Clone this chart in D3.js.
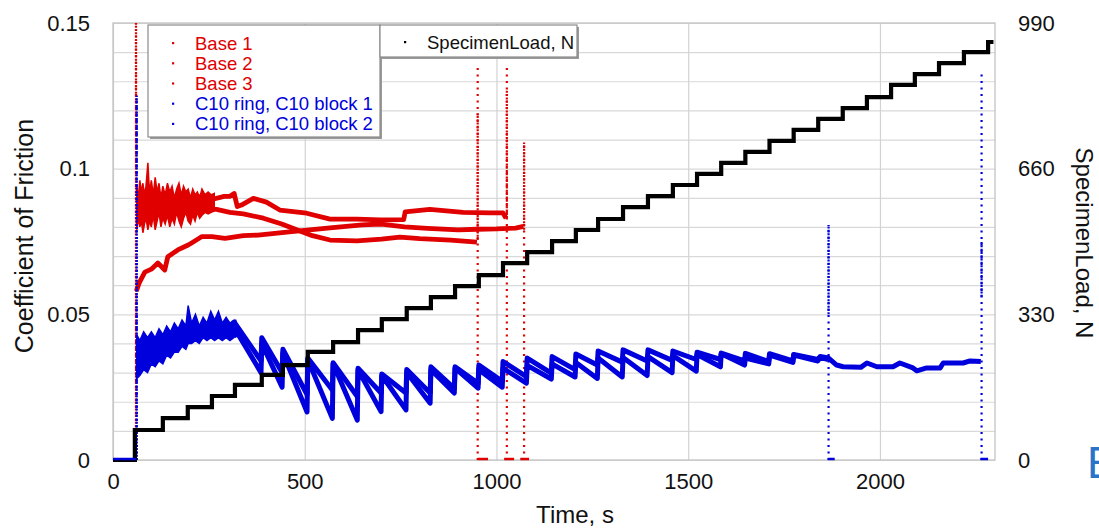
<!DOCTYPE html>
<html><head><meta charset="utf-8">
<script src="https://cdn.jsdelivr.net/npm/d3@7"></script>
<style>
body{margin:0;background:#fff;}
svg{display:block;font-family:"Liberation Sans",Arial,Helvetica,sans-serif;}
</style>
</head><body>
<svg id="chart" width="1099" height="528"></svg>
<script>
// ---------------- DATA ----------------
const xTickValues = [0, 500, 1000, 1500, 2000];
const yTickValues = [0, 0.05, 0.1, 0.15];
const yTickLabels = ["0", "0.05", "0.1", "0.15"];
const y2TickValues = [0, 330, 660, 990];
const seriesNames = ["Base 1", "Base 2", "Base 3", "C10 ring, C10 block 1", "C10 ring, C10 block 2"];
const loadName = "SpecimenLoad, N";

// Specimen load (N), staircase
const loadTime  = [0, 57, 130, 195, 258, 318, 388, 443, 508, 574, 639, 701, 766, 829, 892, 954, 1017, 1080, 1145, 1207, 1265, 1330, 1395, 1460, 1523, 1586, 1649, 1712, 1775, 1839, 1903, 1966, 2029, 2091, 2154, 2219, 2282, 2296];
const loadValue = [0, 68, 95, 120, 145, 170, 193, 215, 245, 267, 294, 319, 344, 369, 394, 419, 446, 471, 496, 521, 546, 573, 598, 623, 648, 673, 698, 723, 748, 773, 797, 822, 850, 874, 899, 924, 947, 947];

// Red noisy start (envelope of Base 1 / Base 2)
const redBandTime = [62, 66, 70, 74, 78, 82, 86, 91, 95, 100, 105, 110, 115, 120, 125, 130, 136, 142, 148, 154, 160, 166, 172, 178, 184, 190, 196, 202, 208, 214, 220, 226, 232, 240, 248, 256, 264];
const redBandHigh = [0.094, 0.090, 0.096, 0.092, 0.095, 0.091, 0.094, 0.102, 0.092, 0.096, 0.091, 0.097, 0.092, 0.095, 0.090, 0.094, 0.091, 0.095, 0.092, 0.094, 0.090, 0.093, 0.095, 0.091, 0.094, 0.092, 0.093, 0.090, 0.093, 0.091, 0.092, 0.090, 0.093, 0.091, 0.092, 0.091, 0.0915];
const redBandLow  = [0.079, 0.083, 0.080, 0.082, 0.078, 0.081, 0.083, 0.079, 0.082, 0.080, 0.084, 0.079, 0.082, 0.085, 0.080, 0.083, 0.081, 0.084, 0.080, 0.083, 0.081, 0.085, 0.082, 0.080, 0.083, 0.085, 0.082, 0.081, 0.084, 0.082, 0.085, 0.083, 0.084, 0.085, 0.0845, 0.085, 0.0855];

const base1Time  = [65, 100, 150, 200, 230, 260, 290, 305, 316, 324, 335, 366, 400, 435, 505, 566, 636, 697, 758, 762, 826, 913, 983, 1017, 1025];
const base1Value = [0.088, 0.088, 0.0885, 0.089, 0.0905, 0.0895, 0.0905, 0.0905, 0.0915, 0.087, 0.0875, 0.0898, 0.0885, 0.0858, 0.0847, 0.0827, 0.0827, 0.0824, 0.0825, 0.0852, 0.086, 0.085, 0.0848, 0.0848, 0.083];

const base2Time  = [65, 150, 220, 270, 305, 340, 392, 440, 479, 520, 566, 636, 700, 748, 800, 880, 949];
const base2Value = [0.086, 0.086, 0.0865, 0.086, 0.085, 0.0845, 0.083, 0.081, 0.079, 0.077, 0.0755, 0.0752, 0.0758, 0.0765, 0.076, 0.0755, 0.0748];

const base3Time  = [61, 68, 83, 100, 117, 135, 143, 169, 196, 205, 232, 258, 292, 340, 378, 466, 566, 650, 700, 760, 820, 900, 950, 1000, 1050, 1070];
const base3Value = [0.058, 0.0607, 0.0645, 0.0655, 0.0676, 0.0652, 0.0698, 0.0721, 0.0738, 0.0745, 0.0767, 0.0767, 0.0761, 0.077, 0.0772, 0.0784, 0.0797, 0.0807, 0.081, 0.080, 0.0795, 0.079, 0.0792, 0.0793, 0.0796, 0.0802];

const redSpikeTime = [60, 951, 1027, 1072];
const redSpikeTop = [0.15, 0.135, 0.136, 0.109];
const redSpikeDenseLow = [0.0, 0.0755, 0.083, 0.079];
const redSpikeDenseHigh = [0.15, 0.119, 0.127, 0.109];
const redZeroStart = [951, 1020, 1062];
const redZeroEnd = [978, 1046, 1085];

// Blue noisy start (envelope of both C10 runs)
const blueBandTime = [62, 70, 80, 90, 100, 110, 120, 130, 140, 150, 160, 170, 180, 190, 196, 205, 215, 225, 235, 245, 255, 265, 275, 285, 295, 305, 315];
const blueBandHigh = [0.043, 0.041, 0.044, 0.042, 0.044, 0.042, 0.045, 0.043, 0.046, 0.044, 0.047, 0.045, 0.048, 0.046, 0.053, 0.047, 0.05, 0.046, 0.049, 0.047, 0.051, 0.048, 0.051, 0.047, 0.049, 0.047, 0.048];
const blueBandLow  = [0.028, 0.029, 0.031, 0.030, 0.033, 0.032, 0.034, 0.033, 0.036, 0.035, 0.037, 0.037, 0.039, 0.038, 0.040, 0.040, 0.041, 0.040, 0.042, 0.041, 0.042, 0.041, 0.042, 0.041, 0.042, 0.041, 0.042];

// Sawtooth: value right after each load step and just before the next one
const blueStepTime = [318, 388, 443, 508, 574, 639, 701, 766, 829, 892, 954, 1017, 1080, 1145, 1207, 1265, 1330, 1395, 1460, 1523, 1586, 1649];
const block1Peak   = [0.047, 0.042, 0.038, 0.035, 0.0334, 0.0315, 0.0295, 0.0311, 0.032, 0.032, 0.0326, 0.0338, 0.035, 0.0355, 0.0364, 0.0374, 0.0378, 0.0378, 0.0374, 0.037, 0.0367];
const block1Trough = [0.034, 0.030, 0.0225, 0.024, 0.0218, 0.023, 0.023, 0.023, 0.0246, 0.0263, 0.027, 0.0286, 0.0298, 0.031, 0.0326, 0.0336, 0.034, 0.0342, 0.0345, 0.0345, 0.034];
const block2Peak   = [0.045, 0.040, 0.0367, 0.0345, 0.033, 0.031, 0.029, 0.030, 0.031, 0.0315, 0.031, 0.0315, 0.0325, 0.033, 0.0335, 0.035, 0.0352, 0.0355, 0.0358, 0.0362, 0.0365];
const block2Trough = [0.030, 0.025, 0.0165, 0.0143, 0.0137, 0.0166, 0.0172, 0.0195, 0.023, 0.0247, 0.025, 0.0264, 0.0278, 0.0285, 0.028, 0.0285, 0.029, 0.030, 0.0305, 0.032, 0.0326];

const block1TailTime  = [1649, 1710, 1712, 1773, 1775, 1838, 1844, 1866, 1887, 1904, 1950, 1966, 1992, 2034, 2052, 2086, 2096, 2122, 2157, 2165, 2217, 2235, 2263];
const block1TailValue = [0.0366, 0.0338, 0.0365, 0.034, 0.0362, 0.0345, 0.0355, 0.035, 0.0326, 0.032, 0.0318, 0.0333, 0.032, 0.032, 0.0333, 0.0316, 0.0306, 0.0316, 0.0316, 0.0333, 0.0333, 0.034, 0.0338];
const block2TailTime  = [1649, 1710, 1712, 1773, 1775, 1838, 1844, 1865];
const block2TailValue = [0.035, 0.033, 0.036, 0.0335, 0.036, 0.034, 0.0352, 0.0345];

const blueSpikeTime = [62, 1866, 2265];
const blueSpikeTop = [0.125, 0.0807, 0.133];
const blueSpikeDenseLow = [0.0, 0.050, 0.056];
const blueSpikeDenseHigh = [0.125, 0.0807, 0.075];
const blueZeroStart = [0, 1864, 2262];
const blueZeroEnd = [60, 1882, 2282];

// ---------------- CHART ----------------
const RED = "#e00000", BLUE = "#0000dc", BLACK = "#000";
const L = 113, R = 995, T = 23, B = 460;
const svg = d3.select("#chart");
const x = d3.scaleLinear().domain([0, 2300]).range([L, R]);
const y = d3.scaleLinear().domain([0, 0.15]).range([B, T]);
const y2 = d3.scaleLinear().domain([0, 990]).range([B, T]);

svg.append("defs").append("clipPath").attr("id", "clip")
  .append("rect").attr("x", L).attr("y", T - 3).attr("width", R - L).attr("height", B - T + 5);

// grid
const grid = svg.append("g");
grid.append("g").attr("transform", `translate(${L},0)`)
  .call(d3.axisLeft(y).tickValues(d3.range(0, 0.1501, 0.01)).tickSize(-(R - L)).tickFormat(""))
  .call(g => g.select(".domain").remove())
  .call(g => g.selectAll("line").attr("stroke", "#d9d9d9").attr("stroke-width", 1.2));
grid.append("g").attr("transform", `translate(0,${B})`)
  .call(d3.axisBottom(x).tickValues(xTickValues).tickSize(-(B - T)).tickFormat(""))
  .call(g => g.select(".domain").remove())
  .call(g => g.selectAll("line").attr("stroke", "#d2d2d2").attr("stroke-width", 1.2));
svg.append("rect").attr("x", L).attr("y", T).attr("width", R - L).attr("height", B - T)
  .attr("fill", "none").attr("stroke", "#c4c4c4").attr("stroke-width", 1.3);

const plot = svg.append("g").attr("clip-path", "url(#clip)");
const line = d3.line().x(d => x(d[0])).y(d => y(d[1]));
const zip = (a, b) => a.map((t, i) => [t, b[i]]);

function drawSpikes(times, tops, dLo, dHi, color) {
  times.forEach((t, i) => {
    plot.append("line").attr("x1", x(t)).attr("x2", x(t)).attr("y1", y(0)).attr("y2", y(tops[i]))
      .attr("stroke", color).attr("stroke-width", 2.2).attr("stroke-dasharray", "2 4.5");
    plot.append("line").attr("x1", x(t)).attr("x2", x(t)).attr("y1", y(dLo[i])).attr("y2", y(dHi[i]))
      .attr("stroke", color).attr("stroke-width", 2.2).attr("stroke-dasharray", "2 1.3");
  });
}
function drawZero(starts, ends, color) {
  starts.forEach((s, i) => {
    plot.append("line").attr("x1", x(s)).attr("x2", x(ends[i])).attr("y1", y(0) - 1).attr("y2", y(0) - 1)
      .attr("stroke", color).attr("stroke-width", 2.5);
  });
}

// red
const area = d3.area().x(d => x(d[0])).y0(d => y(d[2])).y1(d => y(d[1]));
plot.append("path").datum(redBandTime.map((t, i) => [t, redBandHigh[i], redBandLow[i]]))
  .attr("d", area).attr("fill", RED).attr("stroke", RED).attr("stroke-width", 1.5);
[[base1Time, base1Value], [base2Time, base2Value], [base3Time, base3Value]].forEach(([t, v]) => {
  plot.append("path").datum(zip(t, v)).attr("d", line).attr("fill", "none")
    .attr("stroke", RED).attr("stroke-width", 4.8).attr("stroke-linejoin", "round");
});
drawSpikes(redSpikeTime, redSpikeTop, redSpikeDenseLow, redSpikeDenseHigh, RED);

// blue
plot.append("path").datum(blueBandTime.map((t, i) => [t, blueBandHigh[i], blueBandLow[i]]))
  .attr("d", area).attr("fill", BLUE).attr("stroke", BLUE).attr("stroke-width", 1.5);
function teeth(peaks, troughs) {
  const pts = [];
  peaks.forEach((p, i) => {
    pts.push([blueStepTime[i], p]);
    pts.push([blueStepTime[i + 1] - 2, troughs[i]]);
  });
  return pts;
}
const block1 = [[315, blueBandHigh[blueBandHigh.length - 1]]].concat(teeth(block1Peak, block1Trough), zip(block1TailTime, block1TailValue));
const block2 = [[315, blueBandLow[blueBandLow.length - 1]]].concat(teeth(block2Peak, block2Trough), zip(block2TailTime, block2TailValue));
[block1, block2].forEach(pts => {
  plot.append("path").datum(pts).attr("d", line).attr("fill", "none")
    .attr("stroke", BLUE).attr("stroke-width", 5).attr("stroke-linejoin", "round");
});
drawSpikes(blueSpikeTime, blueSpikeTop, blueSpikeDenseLow, blueSpikeDenseHigh, BLUE);

// load
const loadLine = d3.line().x(d => x(d[0])).y(d => y2(d[1])).curve(d3.curveStepAfter);
plot.append("path").datum(zip(loadTime, loadValue)).attr("d", loadLine).attr("fill", "none")
  .attr("stroke", BLACK).attr("stroke-width", 4.2);

drawZero(redZeroStart, redZeroEnd, RED);
drawZero(blueZeroStart, blueZeroEnd, BLUE);

// axes labels
const tickFont = 22;
svg.append("g").attr("transform", `translate(${L},0)`)
  .call(d3.axisLeft(y).tickValues(yTickValues).tickSize(0).tickPadding(23).tickFormat((d, i) => yTickLabels[i]))
  .call(g => g.select(".domain").remove())
  .call(g => g.selectAll("text").attr("font-size", tickFont).attr("font-family", "Liberation Sans, Arial, sans-serif").attr("fill", "#111"));
svg.append("g").attr("transform", `translate(${R},0)`)
  .call(d3.axisRight(y2).tickValues(y2TickValues).tickSize(0).tickPadding(23).tickFormat(d3.format("d")))
  .call(g => g.select(".domain").remove())
  .call(g => g.selectAll("text").attr("font-size", tickFont).attr("font-family", "Liberation Sans, Arial, sans-serif").attr("fill", "#111"));
svg.append("g").attr("transform", `translate(0,${B})`)
  .call(d3.axisBottom(x).tickValues(xTickValues).tickSize(0).tickPadding(13).tickFormat(d3.format("d")))
  .call(g => g.select(".domain").remove())
  .call(g => g.selectAll("text").attr("font-size", tickFont).attr("font-family", "Liberation Sans, Arial, sans-serif").attr("fill", "#111"));

svg.append("text").attr("transform", "translate(33,236) rotate(-90)").attr("text-anchor", "middle")
  .attr("font-size", 25).attr("fill", "#111").text("Coefficient of Friction");
svg.append("text").attr("transform", "translate(1076,243) rotate(90)").attr("text-anchor", "middle")
  .attr("font-size", 24).attr("fill", "#111").text(loadName);
svg.append("text").attr("x", 575).attr("y", 523).attr("text-anchor", "middle")
  .attr("font-size", 24).attr("fill", "#111").text("Time, s");
svg.append("text").attr("x", 1087).attr("y", 478).attr("font-size", 44).attr("fill", "#2a74c8").text("E");

// legends
function legendBox(x0, y0, w, h) {
  svg.append("rect").attr("x", x0 + 2).attr("y", y0 + 2).attr("width", w).attr("height", h).attr("fill", "#9a9a9a");
  svg.append("rect").attr("x", x0).attr("y", y0).attr("width", w).attr("height", h)
    .attr("fill", "#fff").attr("stroke", "#8a8a8a").attr("stroke-width", 1.2);
}
legendBox(148, 25, 232, 112);
const legendColors = [RED, RED, RED, BLUE, BLUE];
seriesNames.forEach((name, i) => {
  const cy = 43 + i * 20.2;
  svg.append("rect").attr("x", 172).attr("y", cy - 1).attr("width", 2.2).attr("height", 2.2).attr("fill", legendColors[i]);
  svg.append("text").attr("x", 195).attr("y", cy + 6.5).attr("font-size", 18.5).attr("fill", legendColors[i]).text(name);
});
legendBox(380, 25, 197, 32);
svg.append("rect").attr("x", 404).attr("y", 41).attr("width", 2.2).attr("height", 2.2).attr("fill", BLACK);
svg.append("text").attr("x", 427).attr("y", 48.5).attr("font-size", 18.5).attr("fill", "#111").text(loadName);
</script>
</body></html>
